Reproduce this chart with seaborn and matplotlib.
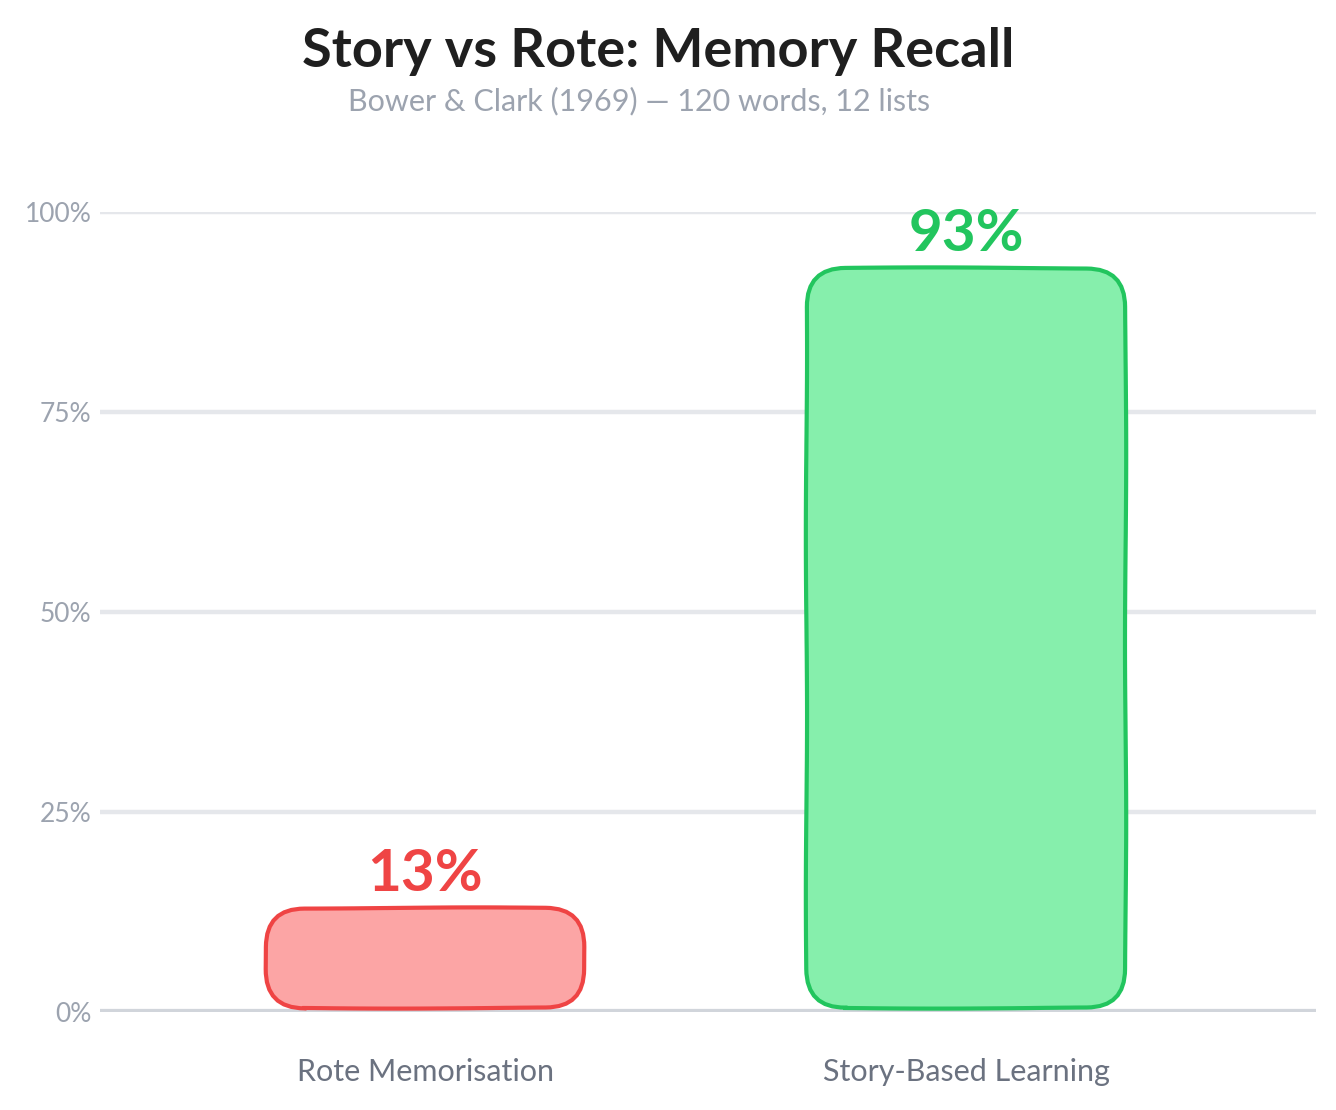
import matplotlib
matplotlib.use("Agg")
import matplotlib.pyplot as plt
import seaborn as sns
import pandas as pd
from matplotlib.patches import FancyBboxPatch

categories = ["Rote Memorisation", "Story-Based Learning"]
recall_pct = [13, 93]
edge_colors = ["#ef4444", "#22c55e"]
fill_colors = ["#fca5a5", "#86efac"]
y_ticks = [0, 25, 50, 75, 100]
y_tick_labels = ["0%", "25%", "50%", "75%", "100%"]

sns.set_theme(style="white")
plt.rcParams["font.family"] = ["Lato", "DejaVu Sans"]

df = pd.DataFrame({"method": categories, "recall": recall_pct})

fig = plt.figure(figsize=(13.36, 11.10), dpi=100)
ax = fig.add_axes([100 / 1336, 98 / 1110, 1216 / 1336, 800 / 1110])

sns.barplot(data=df, x="method", y="recall", hue="method", palette=fill_colors,
            width=0.59, legend=False, ax=ax)
ax.set_xlim(-0.601, 1.647)
ax.set_ylim(0, 100)

# swap the plain bars for rounded, slightly hand-drawn ones
bbox = ax.get_window_extent()
px_x = bbox.width / (ax.get_xlim()[1] - ax.get_xlim()[0])
px_y = bbox.height / (ax.get_ylim()[1] - ax.get_ylim()[0])
aspect = px_x / px_y
bars = list(ax.patches)
for i, bar in enumerate(bars):
    x, y = bar.get_x(), bar.get_y()
    w, h = bar.get_width(), bar.get_height()
    bar.remove()
    rb = FancyBboxPatch((x, y + 0.5), w, h - 0.5,
                        boxstyle="round,pad=0,rounding_size=0.072",
                        mutation_aspect=aspect,
                        facecolor=fill_colors[i], edgecolor=edge_colors[i],
                        linewidth=3, zorder=3)
    rb.set_sketch_params(scale=0.6, length=400, randomness=2)
    ax.add_patch(rb)

for i, v in enumerate(recall_pct):
    ax.text(i, v + 0.9, f"{v}%", ha="center", va="bottom", fontsize=42,
            fontweight="bold", color=edge_colors[i], clip_on=False, zorder=4)

ax.set_yticks(y_ticks)
ax.set_yticklabels(y_tick_labels)
ax.yaxis.grid(True, color="#e5e7eb", linewidth=3.2)
ax.set_axisbelow(True)
ax.axhline(0, color="#d1d5db", linewidth=4.5, zorder=2)
sns.despine(ax=ax, left=True, bottom=True)
ax.tick_params(axis="y", length=0, labelsize=19, labelcolor="#9ca3af", pad=6)
ax.tick_params(axis="x", length=0, labelsize=22, labelcolor="#6b7280", pad=33)
ax.set_xlabel("")
ax.set_ylabel("")

fig.text(0.493, 1 - 52 / 1110, "Story vs Rote: Memory Recall", ha="center",
         va="center", fontsize=39, fontweight="bold", color="#1f1f1f")
fig.text(0.478, 1 - 101 / 1110, "Bower & Clark (1969) — 120 words, 12 lists",
         ha="center", va="center", fontsize=22, color="#9ca3af")

fig.savefig("out.png", dpi=100)
